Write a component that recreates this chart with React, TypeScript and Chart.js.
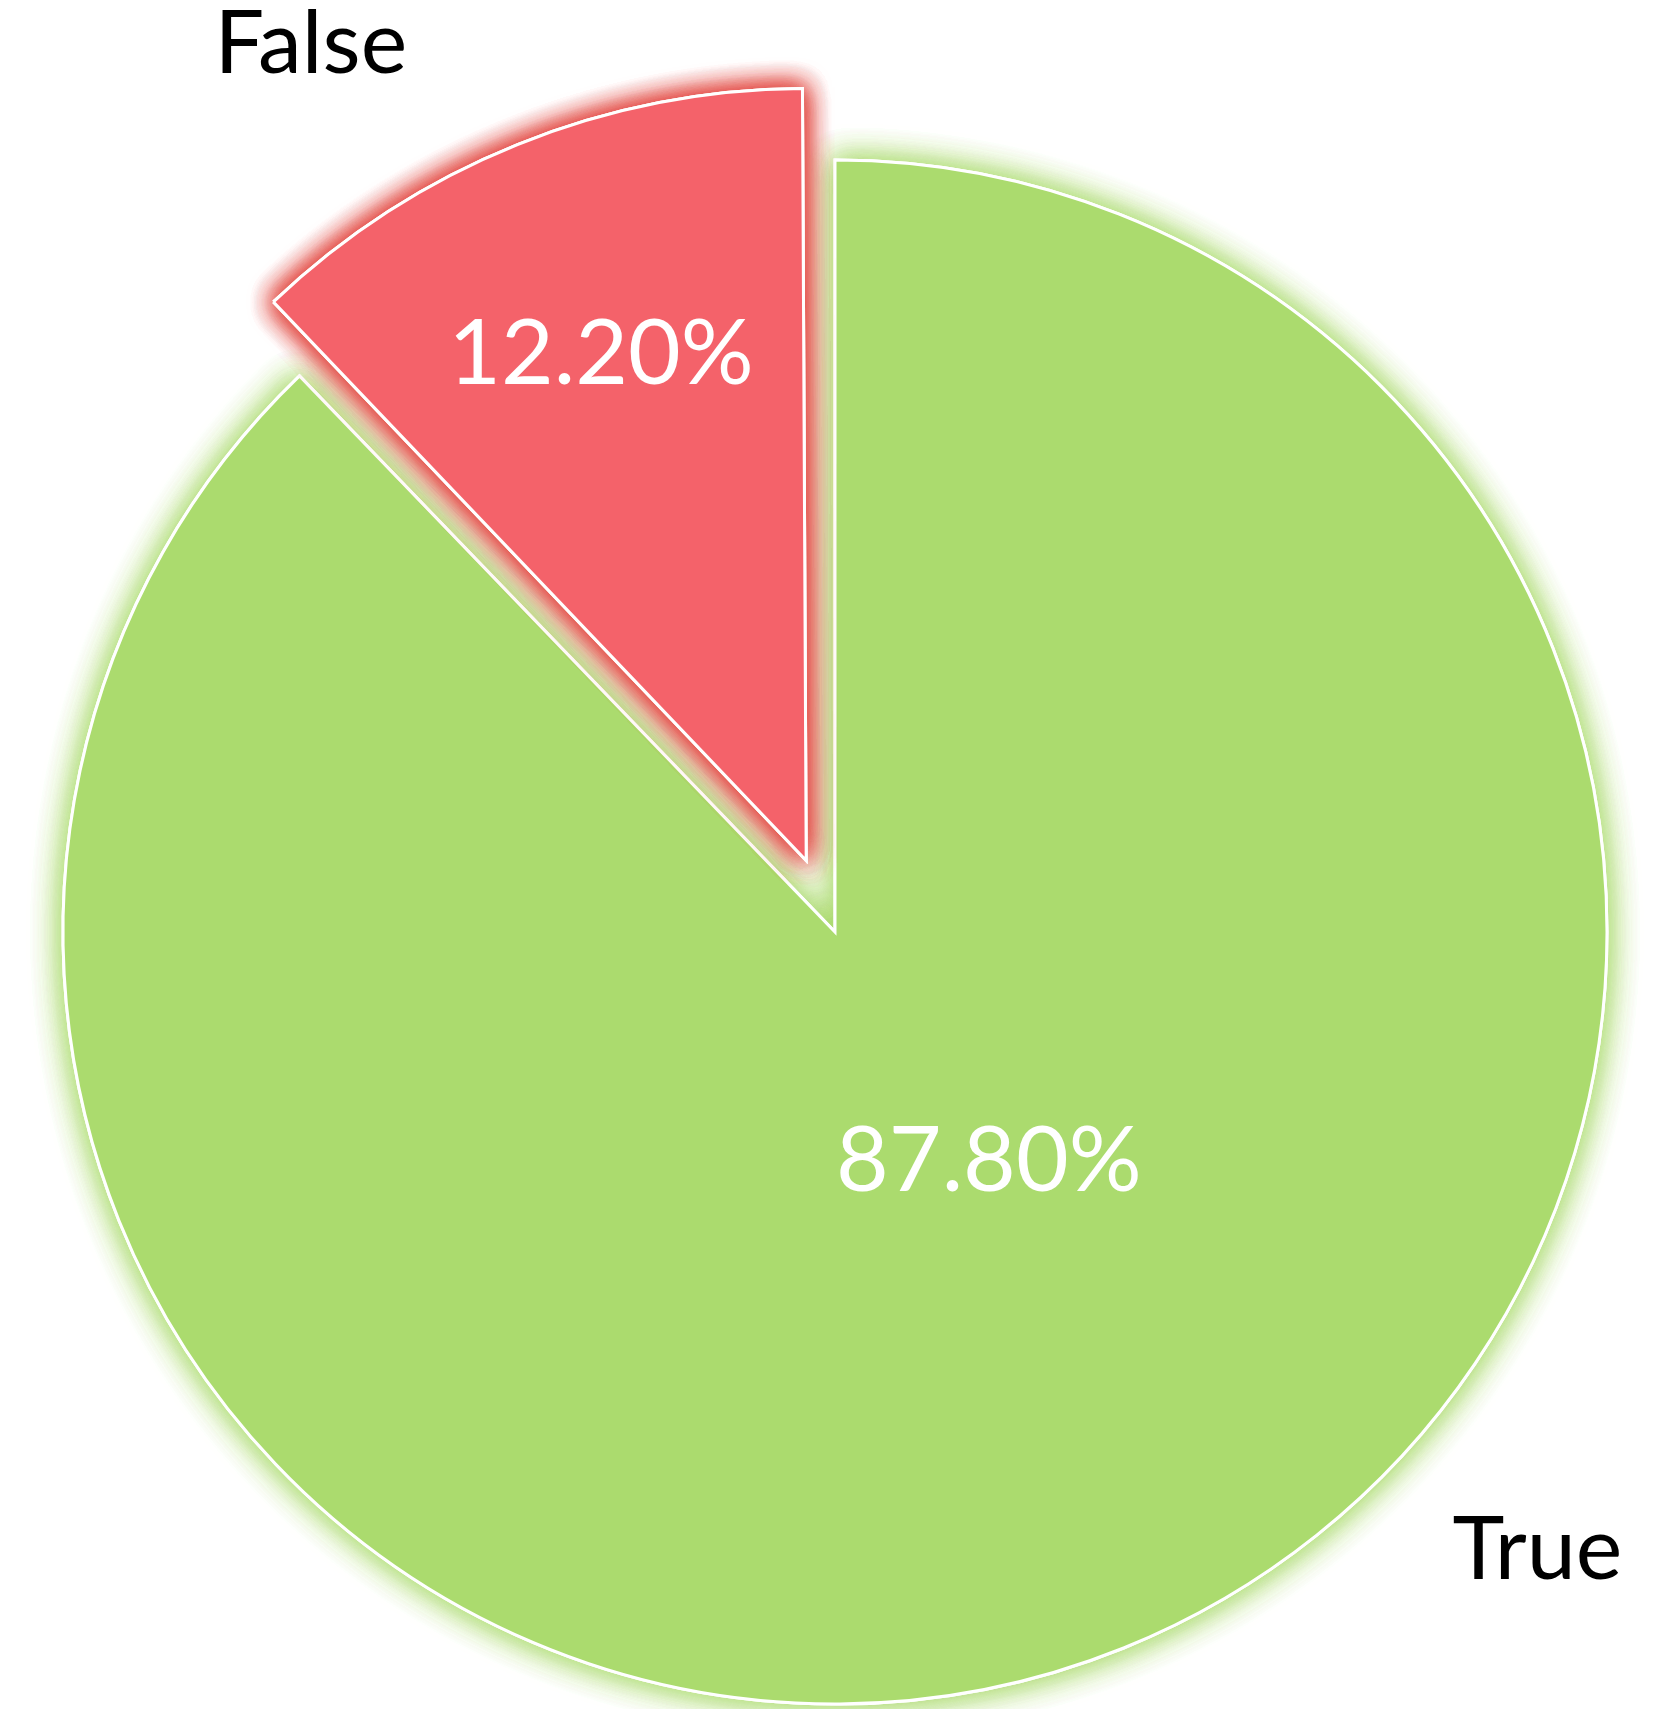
import React, { useEffect, useRef } from "react";
import { Chart, registerables } from "chart.js";

Chart.register(...registerables);

// ---- data ----
const categories = ["True", "False"];
const shares = [87.8, 12.2];
const valueLabels = ["87.80%", "12.20%"];

// ---- styling ----
const sliceColors = ["#ABDB6E", "#F4626A"];
const glowColors = ["rgba(165,215,100,0.85)", "rgba(225,70,62,0.9)"];
const glowPasses = [2, 3];
const glowBlur = [30, 26];
const explode = [0, 308]; // chart.js offset (translation = offset / 4)
const innerLabelPlace = [
  { shift: -12.3, frac: 0.354 },
  { shift: 0, frac: 0.711 },
];
const outerLabelPlace = [
  { shift: -26.8, frac: 1.21 },
  { shift: -9.2, frac: 1.24 },
];
const FONT = "Lato, 'Open Sans', sans-serif";

const glowPlugin = {
  id: "glowArcs",
  beforeDatasetDraw(chart: any, args: any) {
    const ctx = chart.ctx;
    const meta = args.meta;
    meta.data.forEach((arc: any, i: number) => {
      const off = (arc.options.offset || 0) / 4;
      const fix = 1 - Math.sin(Math.min(Math.PI, arc.circumference || 0));
      const saved = arc.outerRadius;
      arc.outerRadius = saved - off * fix;
      for (let k = 0; k < glowPasses[i]; k++) {
        ctx.save();
        ctx.shadowColor = glowColors[i];
        ctx.shadowBlur = glowBlur[i];
        arc.draw(ctx);
        ctx.restore();
      }
      arc.draw(ctx);
      arc.outerRadius = saved;
    });
    return false;
  },
  afterDatasetsDraw(chart: any) {
    const ctx = chart.ctx;
    const meta = chart.getDatasetMeta(0);
    meta.data.forEach((arc: any, i: number) => {
      const mid = (arc.startAngle + arc.endAngle) / 2;
      const off = (arc.options.offset || 0) / 4;
      const ox = arc.x + Math.cos(mid) * off;
      const oy = arc.y + Math.sin(mid) * off;
      const r = arc.outerRadius;
      ctx.save();
      ctx.textAlign = "center";
      ctx.textBaseline = "alphabetic";
      {
        const p = innerLabelPlace[i];
        const a = mid + (p.shift * Math.PI) / 180;
        const size = 91;
        ctx.font = `${size}px ${FONT}`;
        ctx.fillStyle = "#FFFFFF";
        ctx.fillText(
          valueLabels[i],
          ox + Math.cos(a) * r * p.frac,
          oy + Math.sin(a) * r * p.frac + size * 0.36
        );
      }
      {
        const p = outerLabelPlace[i];
        const a = mid + (p.shift * Math.PI) / 180;
        const size = 88;
        ctx.font = `${size}px ${FONT}`;
        ctx.fillStyle = "#000000";
        ctx.fillText(
          categories[i],
          ox + Math.cos(a) * r * p.frac,
          oy + Math.sin(a) * r * p.frac + size * 0.36
        );
      }
      ctx.restore();
    });
  },
};

export default function App() {
  const ref = useRef<HTMLCanvasElement | null>(null);
  useEffect(() => {
    if (!ref.current) return;
    const chart = new Chart(ref.current, {
      type: "pie",
      data: {
        labels: categories,
        datasets: [
          {
            data: shares,
            backgroundColor: sliceColors,
            borderColor: "#FFFFFF",
            borderWidth: 3,
            borderJoinStyle: "miter",
            offset: explode,
          } as any,
        ],
      },
      options: {
        animation: false,
        responsive: false,
        radius: 772,
        layout: { padding: { left: 10, right: 0, top: 155, bottom: 0 } },
        plugins: {
          legend: { display: false },
          tooltip: { enabled: false },
        },
      } as any,
      plugins: [glowPlugin],
    });
    return () => chart.destroy();
  }, []);
  return (
    <div
      style={{
        position: "absolute",
        left: 0,
        top: 0,
        width: 1660,
        height: 1709,
        background: "#FFFFFF",
      }}
    >
      <canvas
        ref={ref}
        width={1660}
        height={1709}
        style={{ display: "block", width: 1660, height: 1709 }}
      />
    </div>
  );
}
